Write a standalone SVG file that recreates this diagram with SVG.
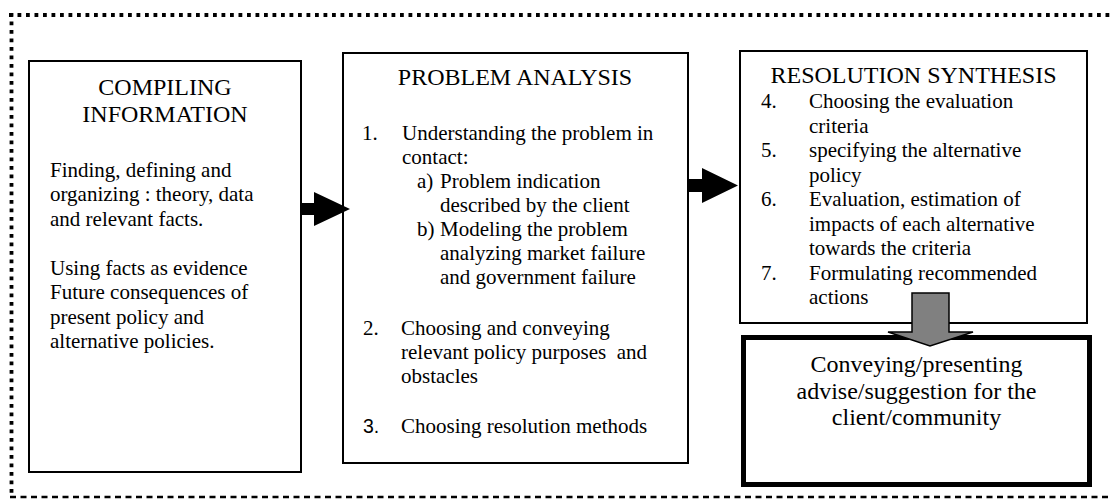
<svg xmlns="http://www.w3.org/2000/svg" width="1110" height="499" viewBox="0 0 1110 499">
<style>
text{font-family:"Liberation Serif","Times New Roman",serif;fill:#000}
.t{font-size:24px;text-anchor:middle}
.b{font-size:21px}
.box{fill:#fff;stroke:#000;stroke-width:2}
.arr{fill:#000;stroke:none}
</style>
<rect width="1110" height="499" fill="#fff"/>
<g id="frame" fill="none" stroke="#000">
<line x1="9" y1="15" x2="1110" y2="15" stroke-width="3.8" stroke-dasharray="3.8,4.7"/>
<line x1="11.5" y1="13" x2="11.5" y2="497" stroke-width="3.8" stroke-dasharray="3.8,4.7"/>
<line x1="10" y1="497" x2="1110" y2="497" stroke-width="2.5" stroke-dasharray="6,4.5"/>
</g>
<g id="compiling">
<rect class="box" x="29" y="61" width="272" height="411"/>
<text class="t" x="165" y="95">COMPILING</text>
<text class="t" x="165" y="122">INFORMATION</text>
<text class="b" x="50" y="176.5">Finding, defining and</text>
<text class="b" x="50" y="201">organizing : theory, data</text>
<text class="b" x="50" y="225.5">and relevant facts.</text>
<text class="b" x="50" y="274.5">Using facts as evidence</text>
<text class="b" x="50" y="299">Future consequences of</text>
<text class="b" x="50" y="323.5">present policy and</text>
<text class="b" x="50" y="348">alternative policies.</text>
</g>
<g id="problem">
<rect class="box" x="343" y="53" width="345" height="410"/>
<text class="t" x="515" y="85">PROBLEM ANALYSIS</text>
<text class="b" x="362" y="140">1.</text>
<text class="b" x="402" y="140">Understanding the problem in</text>
<text class="b" x="402" y="164">contact:</text>
<text class="b" x="417" y="188">a)</text>
<text class="b" x="440" y="188">Problem indication</text>
<text class="b" x="440" y="212">described by the client</text>
<text class="b" x="417" y="236">b)</text>
<text class="b" x="440" y="236">Modeling the problem</text>
<text class="b" x="440" y="260">analyzing market failure</text>
<text class="b" x="440" y="284">and government failure</text>
<text class="b" x="363" y="335">2.</text>
<text class="b" x="401" y="335">Choosing and conveying</text>
<text class="b" x="401" y="359" style="white-space:pre">relevant policy purposes  and</text>
<text class="b" x="401" y="383">obstacles</text>
<text x="363" y="433" style="font-family:'Liberation Sans',Arial,sans-serif;font-size:19.5px">3.</text>
<text class="b" x="401" y="433">Choosing resolution methods</text>
</g>
<g id="resolution">
<rect class="box" x="740" y="51" width="347" height="272"/>
<text class="t" x="913.5" y="83">RESOLUTION SYNTHESIS</text>
<text class="b" x="761" y="108">4.</text>
<text class="b" x="809" y="108">Choosing the evaluation</text>
<text class="b" x="809" y="132.5">criteria</text>
<text class="b" x="761" y="157">5.</text>
<text class="b" x="809" y="157">specifying the alternative</text>
<text class="b" x="809" y="181.5">policy</text>
<text class="b" x="761" y="206">6.</text>
<text class="b" x="809" y="206">Evaluation, estimation of</text>
<text class="b" x="809" y="230.5">impacts of each alternative</text>
<text class="b" x="809" y="255">towards the criteria</text>
<text class="b" x="761" y="279.5">7.</text>
<text class="b" x="809" y="279.5">Formulating recommended</text>
<text class="b" x="809" y="304">actions</text>
</g>
<g id="conveying">
<rect x="743.5" y="337.5" width="346" height="147" fill="#fff" stroke="#000" stroke-width="5"/>
<text class="t" x="916.5" y="372">Conveying/presenting</text>
<text class="t" x="916.5" y="398.5">advise/suggestion for the</text>
<text class="t" x="916.5" y="425">client/community</text>
</g>
<g id="connectors">
<polygon class="arr" points="300,203 314,203 314,192 350,209 314,226 314,215 300,215"/>
<polygon class="arr" points="688,179 702,179 702,168 738,185.5 702,203 702,192 688,192"/>
<polygon points="912,293 949,293 949,332 973,332 930,346 888,332 912,332" fill="#808080" stroke="#000" stroke-width="1.5"/>
</g>
</svg>
